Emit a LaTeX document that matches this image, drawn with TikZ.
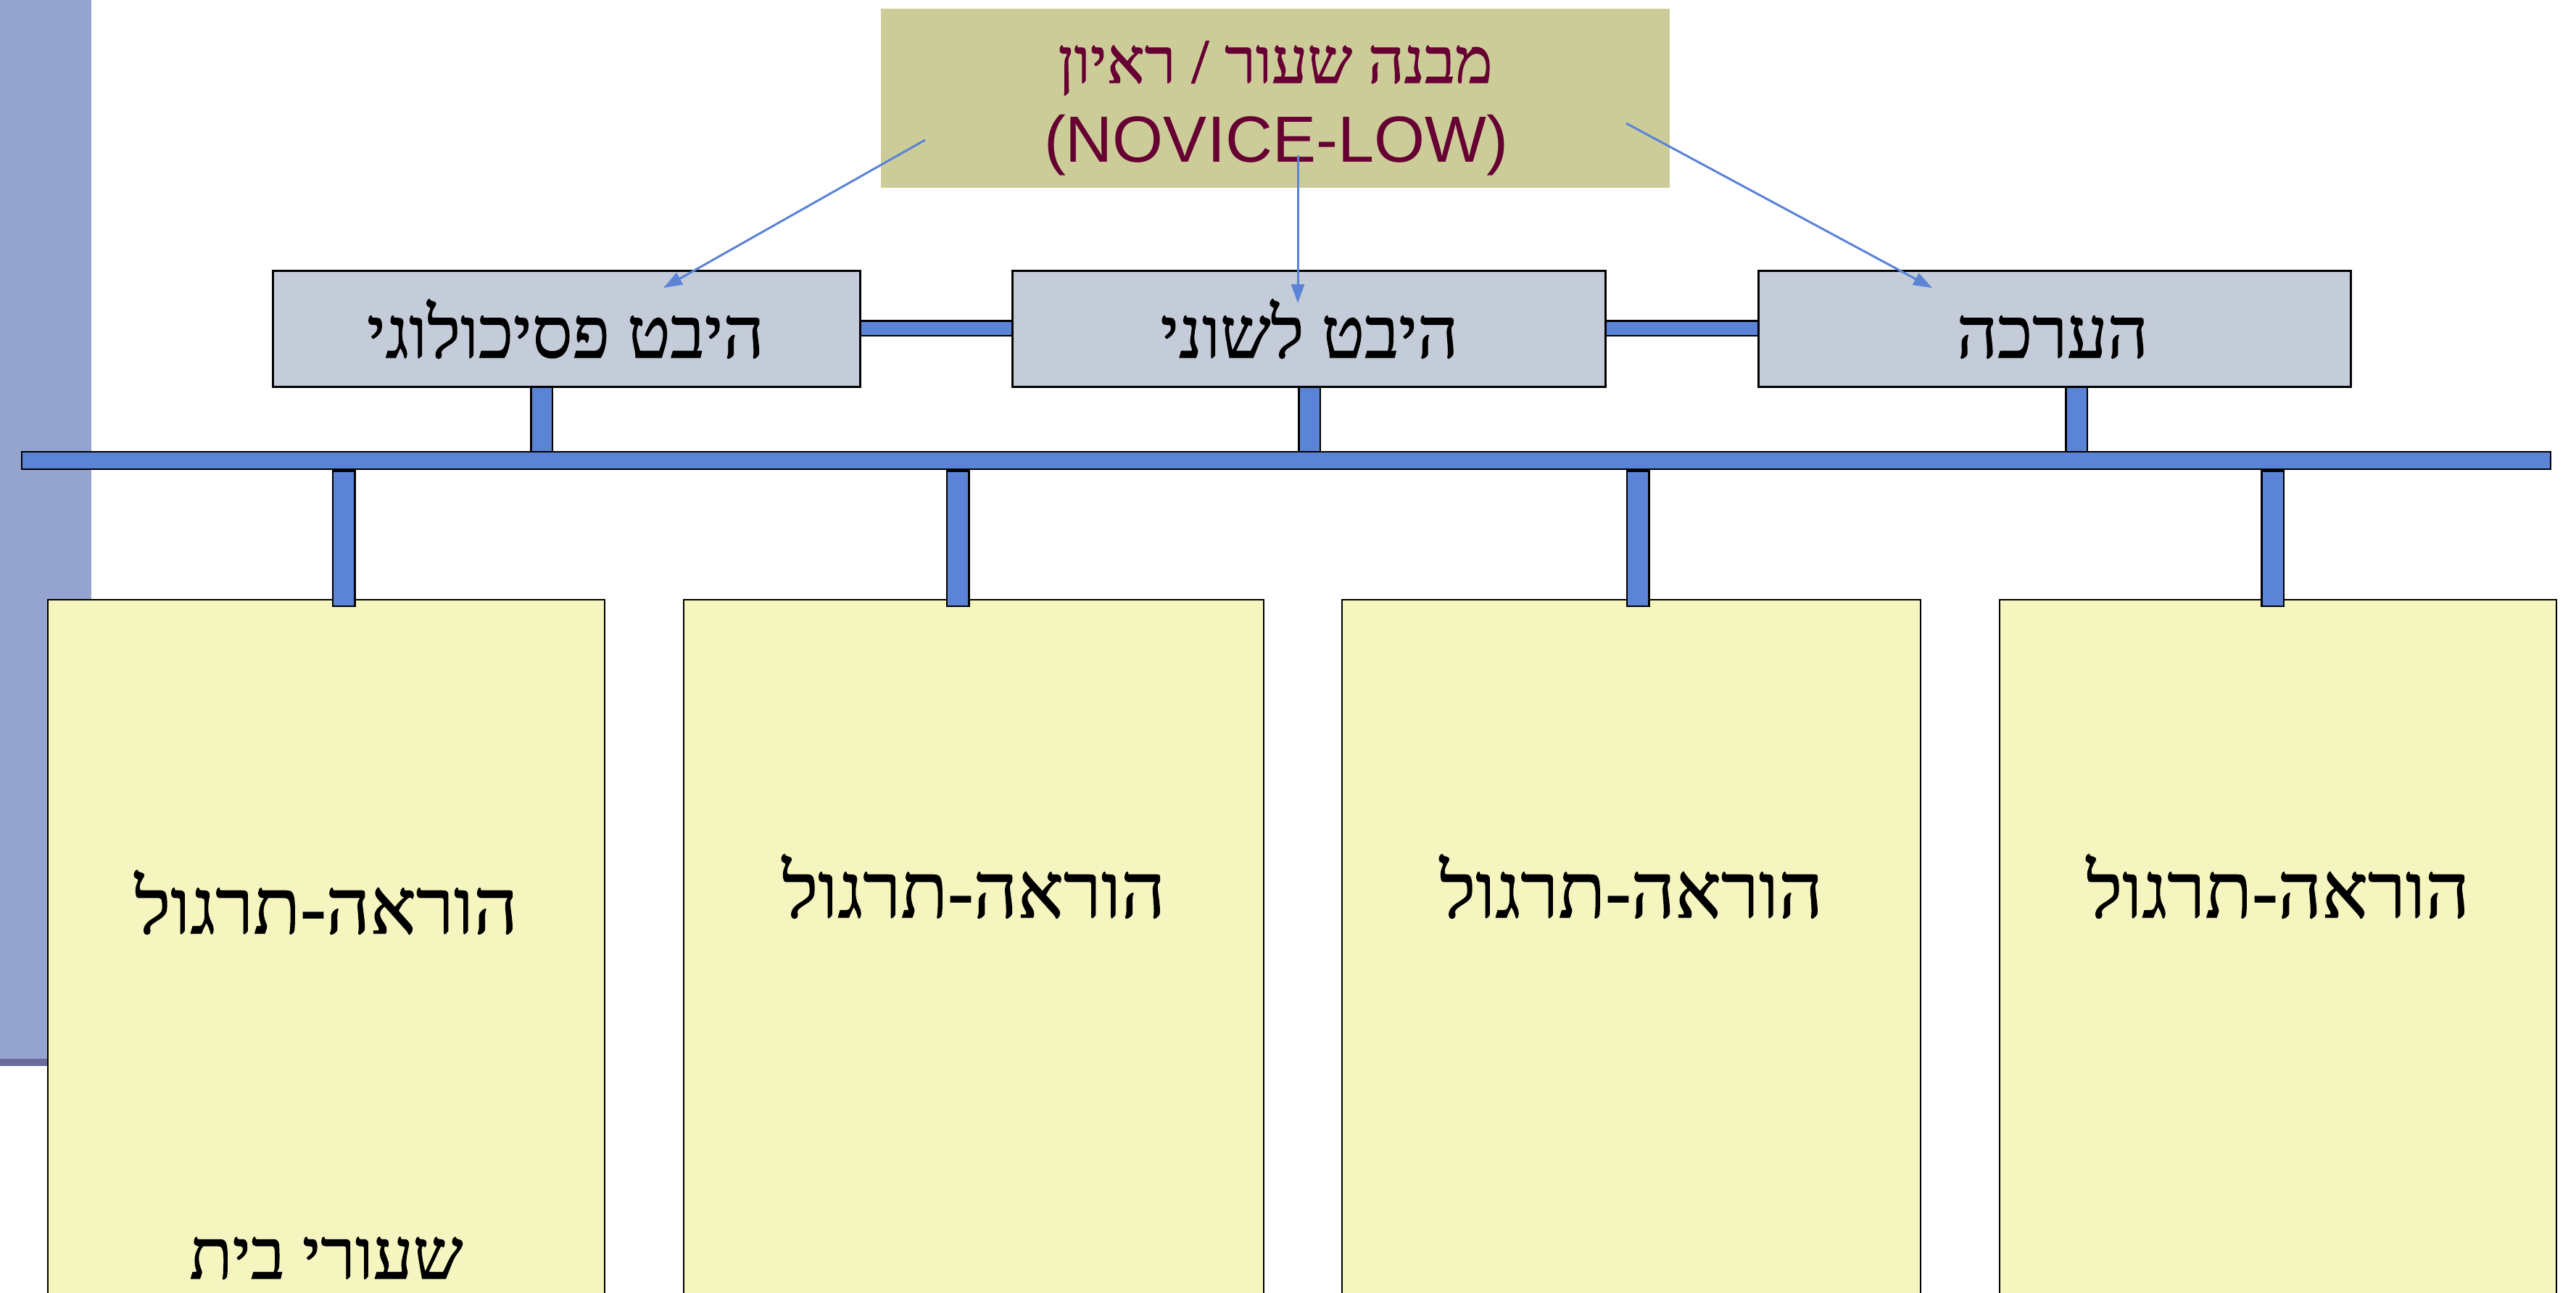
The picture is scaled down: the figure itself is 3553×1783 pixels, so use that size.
\documentclass[tikz,border=0pt]{standalone}
\usepackage{fontspec}
\usetikzlibrary{arrows.meta}
\TeXXeTstate=1
\newfontfamily\hebfont[Script=Hebrew, FakeBold=1.2]{Liberation Serif}
\newfontfamily\latfont{Liberation Sans}
\definecolor{sidebar}{HTML}{94A4CF}
\definecolor{sidedark}{HTML}{6B6B9E}
\definecolor{topfill}{HTML}{CCCC99}
\definecolor{toptext}{HTML}{660033}
\definecolor{midfill}{HTML}{C5CCD9}
\definecolor{barblue}{HTML}{5B84D7}
\definecolor{yfill}{HTML}{F5F5C0}
\tikzset{
  topbox/.style={rectangle, fill=topfill, inner sep=0pt, minimum width=1088pt, minimum height=247pt},
  midbox/.style={rectangle, draw=black, line width=3pt, fill=midfill, inner sep=0pt, minimum height=160pt},
  ybox/.style={rectangle, draw=black, line width=2.5pt, fill=yfill, inner sep=0pt, minimum height=1023pt},
  busbox/.style={rectangle, draw=black, line width=2.5pt, fill=barblue, inner sep=0pt, minimum width=3488pt, minimum height=24pt},
  bar/.style={draw=black, line width=2.5pt, double=barblue, double distance=#1},
  arr/.style={draw=barblue, line width=3pt, -{Triangle[length=26pt,width=18pt]}},
  txt/.style={anchor=base, inner sep=0pt, text=black},
  midtxt/.style={txt, font=\hebfont\fontsize{98}{110}\selectfont},
  ytxt/.style={txt, font=\hebfont\fontsize{106}{120}\selectfont},
  hwtxt/.style={txt, font=\hebfont\fontsize{97}{110}\selectfont},
  toptxtA/.style={txt, text=toptext, font=\hebfont\fontsize{87}{100}\selectfont},
  toptxtB/.style={txt, text=toptext, font=\latfont\fontsize{90}{104}\selectfont},
}
\begin{document}
\begin{tikzpicture}[x=1pt,y=-1pt]
\useasboundingbox (0,0) rectangle (3553,1783);
% side bar
\fill[sidebar] (0,0) rectangle (126,1460);
\fill[sidedark] (0,1460) rectangle (126,1470);

% top box
\node[topbox] (top) at (1759,135.5) {};
\node[toptxtA] (topA) at (1759,114) {\beginR מבנה שעור / ראיון\endR};
\node[toptxtB] (topB) at (1760,223) {(NOVICE-LOW)};

% middle row
\draw[bar=18pt] (781,452.5) -- (1805,452.5);
\draw[bar=18pt] (1805,452.5) -- (2833.5,452.5);
\node[midbox, minimum width=810pt] (b1) at (781,453) {};
\node[midbox, minimum width=818pt] (b2) at (1805,453) {};
\node[midbox, minimum width=817pt] (b3) at (2833.5,453) {};
\node[midtxt] (t1) at (780,493) {\beginR היבט פסיכולוגי\endR};
\node[midtxt] (t2) at (1806,493) {\beginR היבט לשוני\endR};
\node[midtxt] (t3) at (2831,493) {\beginR הערכה\endR};

% bus
\node[busbox] (bus) at (1774,635) {};
\draw[bar=27pt] ([xshift=-34pt]b1.south) -- ([xshift=-34pt]b1.south |- bus.north);
\draw[bar=27pt] ([xshift=1pt]b2.south) -- ([xshift=1pt]b2.south |- bus.north);
\draw[bar=27pt] ([xshift=30.5pt]b3.south) -- ([xshift=30.5pt]b3.south |- bus.north);

% bottom boxes
\node[ybox, minimum width=768pt] (y1) at (450,1338.5) {};
\node[ybox, minimum width=800pt] (y2) at (1343,1338.5) {};
\node[ybox, minimum width=798pt] (y3) at (2250,1338.5) {};
\node[ybox, minimum width=768pt] (y4) at (3142,1338.5) {};
\node[ytxt] (u1) at (450,1287) {\beginR הוראה-תרגול\endR};
\node[ytxt] (u2) at (1343,1265) {\beginR הוראה-תרגול\endR};
\node[ytxt] (u3) at (2250,1265) {\beginR הוראה-תרגול\endR};
\node[ytxt] (u4) at (3142,1265) {\beginR הוראה-תרגול\endR};
\node[hwtxt] (hw) at (450,1763) {\beginR שעורי בית\endR};

\draw[bar=28pt, line cap=rect] ([xshift=24pt,yshift=-16.5pt]y1.north |- bus.south) -- ([xshift=24pt,yshift=5pt]y1.north);
\draw[bar=28pt, line cap=rect] ([xshift=-22pt,yshift=-16.5pt]y2.north |- bus.south) -- ([xshift=-22pt,yshift=5pt]y2.north);
\draw[bar=28pt, line cap=rect] ([xshift=9pt,yshift=-16.5pt]y3.north |- bus.south) -- ([xshift=9pt,yshift=5pt]y3.north);
\draw[bar=28pt, line cap=rect] ([xshift=-7.5pt,yshift=-16.5pt]y4.north |- bus.south) -- ([xshift=-7.5pt,yshift=5pt]y4.north);

% arrows
\coordinate (sL) at (1276,193);
\coordinate (eL) at (915,397);
\coordinate (sM) at (1790,214);
\coordinate (eM) at (1790,418);
\coordinate (sR) at (2243,170);
\coordinate (eR) at (2665,397);
\draw[arr] (sL) -- (eL);
\draw[arr] (sM) -- (eM);
\draw[arr] (sR) -- (eR);
\end{tikzpicture}
\end{document}
